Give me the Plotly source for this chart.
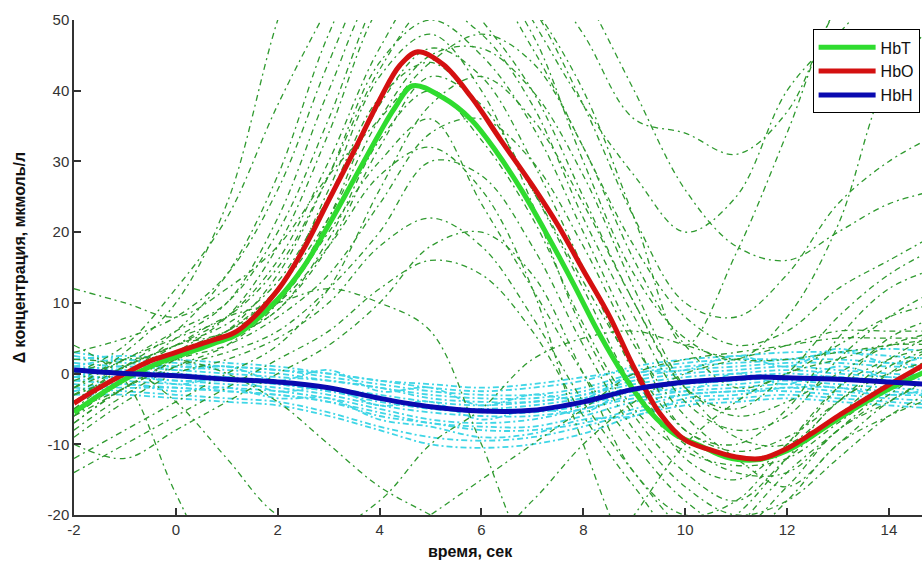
import plotly.graph_objects as go

# time grid (s)
t = [-2, -1, 0, 1, 2, 3, 4, 5, 6, 7, 8, 9, 10, 11, 12, 13, 14, 15]

# mean curves
t_hbt = [-2, -1.5, -1, -0.5, 0, 0.5, 0.8, 1.2, 2, 2.5, 3, 3.5, 4, 4.3, 4.65, 5.25, 5.8, 6.3, 6.8, 7.3, 7.8, 8.3,
         8.8, 9.3, 9.8, 10.3, 10.8, 11.4, 12, 12.5, 13, 13.5, 14, 14.7]
hbt = [-5.5, -3, -0.8, 1, 2.4, 3.6, 4.4, 5.5, 10.5, 15, 21, 27.5, 34, 37.6, 40.7, 39, 35.9, 31.3, 25.8, 19.5, 12.8,
       5.8, -0.3, -5.3, -8.6, -10.2, -11.8, -12.2, -10.9, -8.8, -6.4, -4.2, -2.2, 0.2]
t_hbo = [-2, -1.5, -1, -0.5, 0, 0.5, 0.8, 1.2, 2, 2.5, 3, 3.5, 4, 4.4, 4.75, 5.25, 5.8, 6.4, 7, 7.5, 8, 8.5,
         9, 9.5, 10, 10.5, 11, 11.5, 12, 12.5, 13, 13.5, 14, 14.7]
hbo = [-4.2, -2, 0, 1.8, 3, 4.2, 4.9, 6, 11.8, 17.5, 24.5, 31.5, 38.7, 43.6, 45.5, 43.7, 39.1, 32.8, 26.6, 21, 14.6,
       8.3, 0.8, -5.6, -9.4, -10.8, -11.8, -12, -10.6, -8.4, -6, -3.8, -1.6, 1.3]
t_hbh = [-2, -1, 0, 1, 2, 3, 4, 5, 6, 7, 8, 9, 10, 11, 11.5, 12, 13, 14, 14.7]
hbh = [0.5, 0, -0.3, -0.8, -1.2, -2, -3.5, -4.7, -5.3, -5.2, -4, -2.2, -1.2, -0.7, -0.5, -0.6, -0.8, -1.2, -1.5]

# individual trials, total haemoglobin (thin green dash-dot)
green_trials = [
    [-2, 3, 10, 24, 50, 70, 80, 75, 65, 58, 48, 36, 34, 31, 37, 52, 60, 62],
    [0, 4, 12, 22, 38, 52, 65, 68, 62, 50, 38, 28, 20, 25, 40, 48, 55, 58],
    [-4, 1, 6, 14, 28, 48, 62, 66, 60, 52, 40, 22, 4, 17, 34, 52, 60, 60],
    [-6, -1, 3, 8, 18, 34, 52, 60, 58, 48, 30, 14, 5, 2, 8, 21, 42, 50],
    [-3, 0, 5, 10, 22, 40, 55, 58, 50, 40, 25, 10, -2, -5, 0, 8, 14, 18],
    [-5, -2, 2, 6, 14, 28, 44, 50, 45, 35, 20, 5, -8, -10, -5, 5, 12, 15],
    [-8, -3, 1, 4, 10, 22, 38, 46, 42, 30, 15, 0, -12, -15, -10, -2, 5, 8],
    [-4, 0, 3, 5, 9, 18, 32, 42, 38, 26, 12, -2, -10, -14, -14, -8, -3, 2],
    [-6, -1, 2, 4, 8, 14, 24, 34, 36, 30, 18, 4, -6, -12, -16, -10, -4, 0],
    [-2, 1, 4, 6, 12, 26, 42, 48, 40, 24, 6, -6, -14, -18, -12, -6, 0, 4],
    [-7, -2, 1, 3, 6, 12, 20, 30, 28, 18, 4, -8, -16, -20, -18, -12, -6, -2],
    [-5, 0, 3, 5, 10, 20, 30, 36, 24, 12, 0, -10, -18, -22, -16, -8, -4, 0],
    [-9, -4, 0, 2, 5, 10, 18, 22, 18, 8, -4, -14, -22, -24, -18, -10, -6, -3],
    [-12, -8, -4, 0, 4, 12, 26, 38, 42, 36, 24, 10, -2, -6, -4, 0, 4, 6],
    [-3, 1, 4, 8, 16, 30, 46, 56, 56, 46, 32, 18, 8, 4, 6, 12, 16, 20],
    [-1, 2, 6, 10, 20, 36, 54, 64, 62, 52, 38, 22, 10, 8, 14, 24, 30, 34],
    [4, -1, -17, -30, -35, -30, -25, -20, -15, -10, -5, 0, 2, 3, 4, 5, 5, 5],
    [2, 1, -4, -12, -20, -22, -18, -10, -5, 2, 5, 6, 4, 2, 2, 3, 4, 5],
    [0, 2, 2, 0, -4, -10, -16, -20, -24, -18, -10, -4, 0, 2, 4, 6, 6, 6],
    [-3, 0, 4, 8, 10, 12, 10, 6, -10, -26, -30, -20, -10, -4, 0, 2, 4, 4],
    [-6, -2, 3, 6, 10, 18, 28, 32, 26, 12, -10, -26, -30, -22, -14, -8, -2, 2],
    [-10, -12, -8, -4, 0, 4, 10, 18, 20, 14, 0, -14, -20, -18, -10, -2, 2, 4],
    [12, 10, 8, 12, 18, 28, 36, 44, 48, 44, 32, 16, 4, -2, 0, 4, 8, 10],
    [-14, -10, -6, -2, 2, 6, 12, 16, 14, 6, -6, -16, -24, -20, -12, -4, 0, 2],
    [3, 5, 8, 14, 26, 44, 60, 70, 74, 66, 54, 40, 26, 18, 16, 20, 24, 26],
    [-4, 1, 4, 7, 13, 25, 39, 44, 37, 26, 13, 1, -8, -11, -9, -4, 1, 4],
    [-7, -2, 2, 5, 9, 19, 33, 40, 33, 22, 7, -5, -11, -13, -12, -7, -2, 1],
    [-2, 2, 5, 8, 15, 28, 43, 52, 48, 38, 22, 8, -4, -8, -6, 2, 8, 12],
    [-5, -1, 3, 6, 12, 22, 36, 45, 46, 40, 28, 12, -2, -9, -10, -4, 2, 6],
]

# individual trials, deoxy-haemoglobin (thin cyan dash-dot)
cyan_trials = [
    [2, 2.5, 2, 1.5, 1, 0, -1, -2, -2.5, -2, -1, 1, 2, 2.5, 3, 3, 2.5, 2],
    [-1, -1.5, -2, -2.5, -3, -4, -6, -7, -8, -8, -7, -5, -3, -2.5, -2, -2.5, -3, -3],
    [1, 0.5, 0, -0.5, -1, -2, -3, -4, -4.5, -4, -3, -1, 0, 0.5, 1, 0.5, 0, -0.5],
    [0, -1, -1.5, -2, -2.5, -3.5, -5, -6.5, -7, -6.5, -5, -3.5, -2.5, -2, -1.5, -2, -2.5, -3],
    [2.5, 1.5, 1, 0.5, 0, -1, -2, -3, -3.5, -3.5, -2.5, -0.5, 0.5, 1, 1.5, 1.5, 1, 1],
    [-2, -2.5, -3, -3.5, -4, -5.5, -7.5, -9, -9.5, -9, -7.5, -5.5, -4, -3.5, -3, -3.5, -4, -4.5],
    [0.5, 1, 0.5, 0, -0.5, -1, -2, -3.5, -4, -4, -3, -1.5, -0.5, 0, 0.5, 0, -0.5, -1],
    [-0.5, -0.5, -1, -1.5, -2, -3, -4.5, -5.5, -6, -6, -5, -3, -2, -1.5, -1, -1.5, -2, -2.5],
    [1.5, 1, 1, 1, 0.5, 0, -1, -1.5, -2, -1.5, -0.5, 0.5, 1.5, 2, 2, 2, 1.5, 1],
    [-1.5, -2, -2, -2.5, -3, -4, -5.5, -7, -7.5, -7.5, -6, -4, -3, -2.5, -2.5, -3, -3.5, -4],
    [3, 2, 1.5, 1, 0.5, -0.5, -1.5, -2.5, -3, -3, -2, 0, 1, 1.5, 2, 3, 3.5, 3],
    [0, 0, -0.5, -1, -1.5, -2.5, -4, -5, -5.5, -5.5, -4.5, -2.5, -1.5, -1, -0.5, -0.5, -1, -1.5],
    [-1, -0.5, -1, -1, -1.5, -2.5, -3.5, -4.5, -5, -4.5, -3.5, -2, -1, -0.5, 0, -0.5, -1, -1.5],
    [-3, -3, -3.5, -4, -4.5, -6, -8, -10, -10.5, -10, -8.5, -6, -4.5, -4, -3.5, -4, -4.5, -5],
    [1, 2, 0.5, 1, -1, 0.5, -2.5, -2, -4.5, -3, -3.5, 0, 0.5, 2.5, 1, 3.5, 1.5, 3],
    [-0.5, 0.5, -1.5, -0.5, -2.5, -2, -4.5, -4, -6.5, -5, -5.5, -2, -2.5, 0, -1.5, 1, -0.5, 0.5],
    [-2.5, -1.5, -2.5, -2, -3.5, -3.5, -6.5, -7.5, -9, -8.5, -6.5, -6, -3.5, -3, -2, -2, -3, -2],
]

series_names = ["HbT", "HbO", "HbH"]
series_colors = ["#2fdc2f", "#d41010", "#0a0ab0"]

x_ticks = [-2, 0, 2, 4, 6, 8, 10, 12, 14]
y_ticks = [-20, -10, 0, 10, 20, 30, 40, 50]

fig = go.Figure()

for tr in cyan_trials:
    fig.add_trace(go.Scatter(x=t, y=tr, mode="lines", showlegend=False, hoverinfo="skip",
                             line=dict(color="#3fd6e6", width=1.8, dash="6px,3px,2px,3px",
                                       shape="spline", smoothing=1.0)))
for tr in green_trials:
    fig.add_trace(go.Scatter(x=t, y=tr, mode="lines", showlegend=False, hoverinfo="skip",
                             line=dict(color="#2f9a2f", width=1.3, dash="6px,4px,2px,4px",
                                       shape="spline", smoothing=1.0)))

for name, col, xs, ys in zip(series_names, series_colors, [t_hbt, t_hbo, t_hbh], [hbt, hbo, hbh]):
    fig.add_trace(go.Scatter(x=xs, y=ys, mode="lines", name=name,
                             line=dict(color=col, width=5, shape="spline", smoothing=1.0)))

fig.update_layout(
    width=922, height=567,
    margin=dict(l=74, r=0, t=20, b=52),
    paper_bgcolor="white", plot_bgcolor="white",
    font=dict(family="Liberation Sans, Arial, sans-serif", size=15, color="#333333"),
    showlegend=True,
    legend=dict(x=0.871, y=0.981, xanchor="left", yanchor="top",
                bgcolor="white", bordercolor="black", borderwidth=1,
                font=dict(size=16, color="#111111"), itemwidth=57,
                tracegroupgap=0),
    xaxis=dict(range=[-2, 14.65], tickvals=x_ticks, ticktext=[str(v) for v in x_ticks],
               showgrid=False, zeroline=False, showline=True, linecolor="#333333", linewidth=1.5,
               ticks="inside", ticklen=7, tickcolor="#333333", tickwidth=1.5),
    yaxis=dict(range=[-20, 50], tickvals=y_ticks, ticktext=[str(v) for v in y_ticks],
               showgrid=False, zeroline=False, showline=True, linecolor="#333333", linewidth=1.5,
               ticks="inside", ticklen=7, tickcolor="#333333", tickwidth=1.5),
    annotations=[
        dict(text="<b>время, сек</b>", xref="paper", yref="paper", x=0.467, y=-0.073,
             xanchor="center", yanchor="middle", showarrow=False,
             font=dict(size=16, color="#111111")),
        dict(text="<b>Δ концентрация, мкмоль/л</b>", xref="paper", yref="paper", x=-0.064, y=0.52,
             xanchor="center", yanchor="middle", textangle=-90, showarrow=False,
             font=dict(size=16, color="#111111")),
    ],
)

fig.write_html("out.html")
